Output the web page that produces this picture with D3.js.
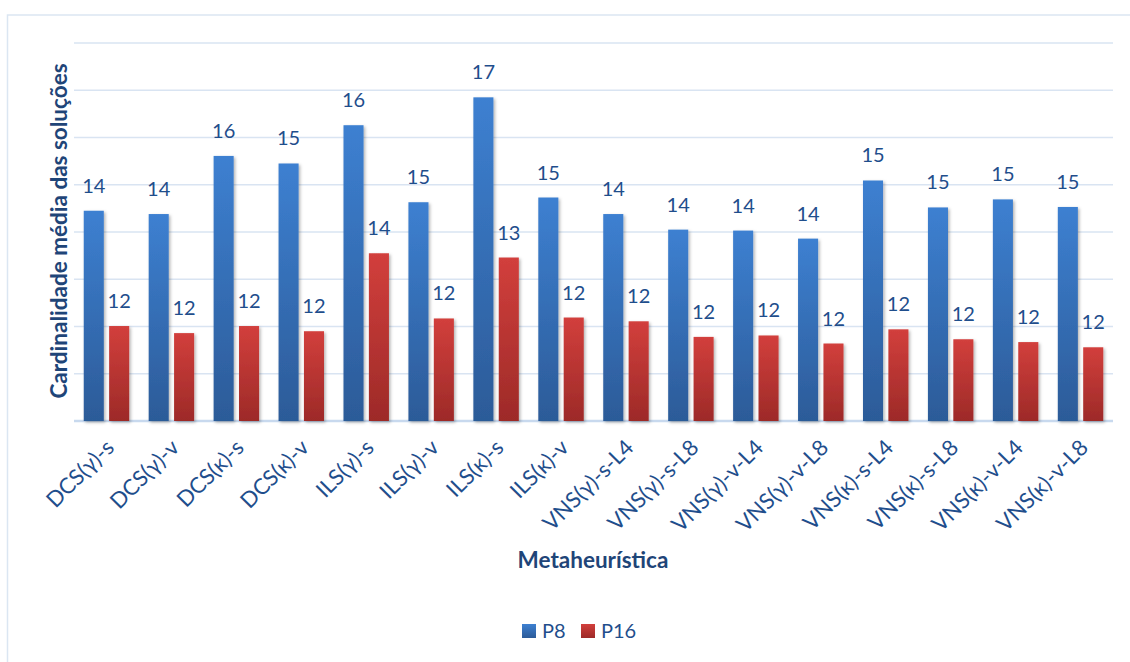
<!DOCTYPE html>
<html>
<head>
<meta charset="utf-8">
<script src="https://cdn.jsdelivr.net/npm/d3@7"></script>
<style>
  body { margin: 0; background: #fff; }
  svg { display: block; font-family: Lato, "Open Sans", sans-serif; }
</style>
</head>
<body>
<script>
const categories = [
    "DCS(γ)-s", "DCS(γ)-v", "DCS(κ)-s", "DCS(κ)-v",
    "ILS(γ)-s", "ILS(γ)-v", "ILS(κ)-s", "ILS(κ)-v",
    "VNS(γ)-s-L4", "VNS(γ)-s-L8", "VNS(γ)-v-L4", "VNS(γ)-v-L8",
    "VNS(κ)-s-L4", "VNS(κ)-s-L8", "VNS(κ)-v-L4", "VNS(κ)-v-L8"
];
const seriesNames = ["P8", "P16"];
const p8 = [14.45, 14.38, 15.61, 15.45, 16.26, 14.63, 16.85, 14.73,
            14.38, 14.05, 14.03, 13.86, 15.09, 14.52, 14.69, 14.53];
const p16 = [12.01, 11.86, 12.01, 11.90, 13.55, 12.17, 13.46, 12.19,
             12.11, 11.78, 11.81, 11.64, 11.94, 11.73, 11.67, 11.56];
const yTicks = [10, 11, 12, 13, 14, 15, 16, 17, 18];

const width = 1130, height = 662;
const margin = { top: 43, right: 17, bottom: 241, left: 74 };
const textColor = "#1f4e8c";

const svg = d3.select("body").append("svg")
    .attr("width", width)
    .attr("height", height);

const defs = svg.append("defs");
const grads = [
    { id: "gP8", top: "#3d80d1", bottom: "#2c5b98" },
    { id: "gP16", top: "#d23f3c", bottom: "#9d2a28" }
];
grads.forEach(g => {
    const lg = defs.append("linearGradient")
        .attr("id", g.id)
        .attr("x1", 0).attr("y1", 0).attr("x2", 0).attr("y2", 1);
    lg.append("stop").attr("offset", "0%").attr("stop-color", g.top);
    lg.append("stop").attr("offset", "100%").attr("stop-color", g.bottom);
});
defs.append("filter")
    .attr("id", "shadow")
    .attr("x", "-20%").attr("y", "-5%").attr("width", "150%").attr("height", "115%")
    .append("feDropShadow")
    .attr("dx", 1.5).attr("dy", 1.5)
    .attr("stdDeviation", 1.5)
    .attr("flood-color", "#000")
    .attr("flood-opacity", 0.3);

// chart border
svg.append("rect")
    .attr("x", 7.5).attr("y", 15)
    .attr("width", 1200).attr("height", 800)
    .attr("fill", "none")
    .attr("stroke", "#dbe6f2")
    .attr("stroke-width", 1.5);

const x = d3.scaleBand()
    .domain(categories)
    .range([margin.left, width - margin.right])
    .paddingInner(0.3)
    .paddingOuter(0.15);

const xSub = d3.scaleBand()
    .domain(seriesNames)
    .range([0, x.bandwidth()])
    .paddingInner(0.21);

const y = d3.scaleLinear()
    .domain([10, 18])
    .range([height - margin.bottom, margin.top]);

const color = { P8: "url(#gP8)", P16: "url(#gP16)" };

// gridlines
svg.append("g")
    .selectAll("line")
    .data(yTicks)
    .join("line")
    .attr("x1", margin.left)
    .attr("x2", width - margin.right)
    .attr("y1", d => y(d))
    .attr("y2", d => y(d))
    .attr("stroke", d => d === 10 ? "#c8d9ee" : "#d9e4f2")
    .attr("stroke-width", d => d === 10 ? 2.5 : 1.5);

const rows = categories.map((c, i) => ({ cat: c, P8: p8[i], P16: p16[i] }));

const group = svg.append("g")
    .selectAll("g")
    .data(rows)
    .join("g")
    .attr("transform", d => `translate(${x(d.cat)},0)`);

const bars = group.selectAll("g")
    .data(d => seriesNames.map(s => ({ key: s, value: d[s] })))
    .join("g");

bars.append("rect")
    .attr("x", d => xSub(d.key))
    .attr("width", xSub.bandwidth())
    .attr("y", d => y(d.value))
    .attr("height", d => y(10) - y(d.value))
    .attr("fill", d => color[d.key])
    .attr("filter", "url(#shadow)");

bars.append("text")
    .attr("x", d => xSub(d.key) + xSub.bandwidth() / 2)
    .attr("y", d => y(d.value) - 18)
    .attr("text-anchor", "middle")
    .attr("font-size", 20)
    .attr("fill", textColor)
    .text(d => d3.format(".0f")(d.value));

// x labels
svg.append("g")
    .selectAll("text")
    .data(categories)
    .join("text")
    .attr("transform", d => `translate(${x(d) + x.bandwidth() / 2 + 9},${height - margin.bottom + 28}) rotate(-45)`)
    .attr("text-anchor", "end")
    .attr("font-size", 22)
    .attr("fill", textColor)
    .text(d => d);

// axis titles
svg.append("text")
    .attr("transform", `translate(67,231) rotate(-90)`)
    .attr("text-anchor", "middle")
    .attr("font-size", 22.5)
    .attr("font-weight", "bold")
    .attr("fill", "#1f4578")
    .text("Cardinalidade média das soluções");

svg.append("text")
    .attr("x", 593)
    .attr("y", 568)
    .attr("text-anchor", "middle")
    .attr("font-size", 22.5)
    .attr("font-weight", "bold")
    .attr("fill", "#1f4578")
    .text("Metaheurística");

// legend
const legendPos = [{ key: "P8", x: 522 }, { key: "P16", x: 581 }];
const legend = svg.append("g")
    .selectAll("g")
    .data(legendPos)
    .join("g")
    .attr("transform", d => `translate(${d.x},624)`);
legend.append("rect")
    .attr("width", 14).attr("height", 14)
    .attr("fill", d => color[d.key]);
legend.append("text")
    .attr("x", 20)
    .attr("y", 14)
    .attr("font-size", 20)
    .attr("fill", textColor)
    .text(d => d.key);
</script>
</body>
</html>
